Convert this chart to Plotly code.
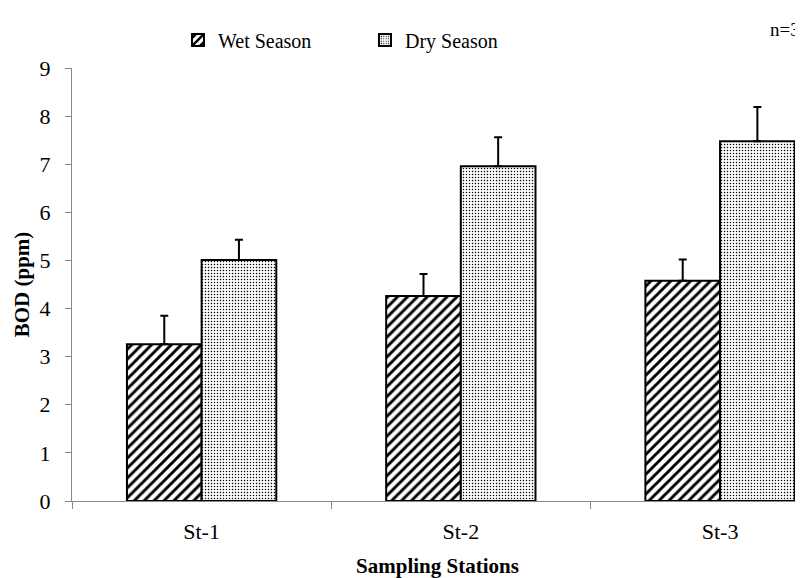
import plotly.graph_objects as go

stations = ["St-1", "St-2", "St-3"]
wet = [3.26, 4.26, 4.58]
wet_err = [0.59, 0.46, 0.44]
dry = [5.01, 6.96, 7.48]
dry_err = [0.42, 0.60, 0.71]

FONT = "Liberation Serif"

# page body has an 8px margin; figure is sized to fit the remaining viewport
W, H = 795, 570
L, T, B = 64, 60, 77
PW, PH = W - L, H - T - B

fig = go.Figure()
fig.add_trace(go.Bar(
    x=stations, y=wet, name="Wet Season",
    marker=dict(color="white", line=dict(color="black", width=2),
                pattern=dict(shape="/", fgcolor="black", bgcolor="white", fgopacity=1,
                             size=7, solidity=0.42, fillmode="replace")),
    error_y=dict(type="data", array=wet_err, arrayminus=[0, 0, 0], symmetric=False,
                 color="black", thickness=2, width=4),
))
fig.add_trace(go.Bar(
    x=stations, y=dry, name="Dry Season",
    marker=dict(color="white", line=dict(color="black", width=2),
                pattern=dict(shape=".", fgcolor="black", bgcolor="white", fgopacity=1,
                             size=3, solidity=0.2, fillmode="replace")),
    error_y=dict(type="data", array=dry_err, arrayminus=[0, 0, 0], symmetric=False,
                 color="black", thickness=2, width=4),
))

fig.update_layout(
    width=W, height=H,
    margin=dict(l=L, r=0, t=T, b=B, autoexpand=False),
    paper_bgcolor="white", plot_bgcolor="white",
    barmode="group", bargap=0.424, bargroupgap=0,
    font=dict(family=FONT, size=20, color="black"),
    showlegend=True,
    legend=dict(orientation="h", x=(170 - L) / PW, y=1 + (T - 32) / PH, xanchor="left", yanchor="middle",
                font=dict(family=FONT, size=20), entrywidth=142, entrywidthmode="pixels",
                itemwidth=30, bgcolor="rgba(0,0,0,0)"),
    xaxis=dict(range=[-0.5, 2.32], showline=True, linecolor="#888888", linewidth=1,
               ticks="outside", tickson="boundaries", ticklen=7, tickcolor="#888888",
               showgrid=False, zeroline=False, ticklabelstandoff=11, automargin=False,
               title=dict(text="<b>Sampling Stations</b>", font=dict(family=FONT, size=21), standoff=14),
               tickfont=dict(family=FONT, size=22)),
    yaxis=dict(range=[0, 9], dtick=1, showline=True, linecolor="#888888", linewidth=1,
               ticks="outside", ticklen=6, tickcolor="#888888", showgrid=False, zeroline=False,
               ticklabelstandoff=10, automargin=False,
               title=dict(text="<b>BOD (ppm)</b>", font=dict(family=FONT, size=21), standoff=4),
               tickfont=dict(family=FONT, size=22)),
    annotations=[dict(text="n=3", xref="paper", yref="paper", x=(760 - L) / PW, y=1 + (T - 22) / PH,
                      xanchor="left", yanchor="middle", showarrow=False,
                      font=dict(family=FONT, size=19, color="black"))],
)

fig.write_html("out.html")
